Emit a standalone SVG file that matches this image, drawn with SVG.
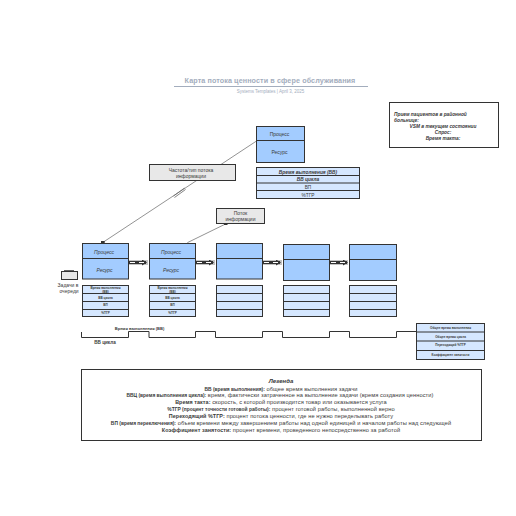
<svg xmlns="http://www.w3.org/2000/svg" width="516" height="516" viewBox="0 0 516 516">
<defs>
<marker id="sq" markerWidth="4" markerHeight="4" refX="2" refY="2" markerUnits="userSpaceOnUse"><rect width="4" height="3" fill="#333"/></marker>
<marker id="tri" markerWidth="5" markerHeight="6" refX="4" refY="3" markerUnits="userSpaceOnUse" orient="auto"><path d="M0 0L5 3L0 6Z" fill="#333"/></marker>
</defs>
<style>
text{font-family:"Liberation Sans",Arial,sans-serif;text-anchor:middle;fill:#3a3a3a}
.s{stroke:#333;stroke-width:1}
.p{fill:#a3ccff}
.d{fill:#d5e7ff}
.g{fill:#e8e8e8}
.w{fill:#fff}
.i{font-style:italic}
.c{font-size:5px}
.n{font-size:4.800px}
.t{font-size:3.100px}
.r{font-size:3.100px;font-weight:bold}
.l{font-size:5.700px;letter-spacing:.07px}
.b{font-weight:bold}
.l .b{font-size:4.900px;letter-spacing:0}
.l .k{font-size:5.400px;font-weight:bold}
.link{fill:none;stroke:#777;stroke-width:.8}
.f1{stroke:#c4c4c4;stroke-width:5;fill:none}
.f2{stroke:#333;stroke-width:3;fill:none}
.f3{stroke:#fff;stroke-width:1;stroke-dasharray:5 4 5;fill:none}
</style>
<g id="title">
<text x="270" y="83" font-size="7.200" font-weight="bold" style="fill:#a3adbd;letter-spacing:.1px">Карта потока ценности в сфере обслуживания</text>
<path d="M174 86.500H368" stroke="#a3adbd" fill="none"/>
<text x="270.500" y="93" font-size="4.500" style="fill:#a3adbd">Systems Templates  |  April 3, 2025</text>
</g>
<g id="connectors">
<path class="link" d="M256.500 141L102.700 242.500" marker-end="url(#sq)"/>
<path d="M173.500 196L184.500 188M174.500 197.500L185.500 189.500" fill="none" stroke="#666" stroke-width=".8"/>
<path class="link" d="M187.300 242.700L225.500 224" marker-end="url(#sq)"/>
<g id="flow1"><path class="f1" d="M129 262.500H148"/><path class="f2" d="M129 262.500H146" marker-end="url(#tri)"/><path class="f3" d="M130 262.500H145"/></g>
<g id="flow2"><path class="f1" d="M196 262.500H215"/><path class="f2" d="M196 262.500H213" marker-end="url(#tri)"/><path class="f3" d="M197 262.500H212"/></g>
<g id="flow3"><path class="f1" d="M263 262.500H282"/><path class="f2" d="M263 262.500H280" marker-end="url(#tri)"/><path class="f3" d="M264 262.500H279"/></g>
<g id="flow4"><path class="f1" d="M330 262.500H348"/><path class="f2" d="M330 262.500H347" marker-end="url(#tri)"/><path class="f3" d="M331 262.500H346"/></g>
<path id="timeline" d="M81.500 332V337.500H128.500V331.500H149V337.500H195.500V331.500H215.500V337.500H262.500V331.500H282.500V337.500H329.500V331.500H349.500V337.500H396.500V331.500H416.500" fill="none" stroke="#333"/>
</g>
<g id="top-right-note">
<rect class="w s" x="389.500" y="102.500" width="109" height="45"/>
<text class="n b i" x="394" y="116" style="text-anchor:start">Прием пациентов в районной</text>
<text class="n b i" x="394" y="121.500" style="text-anchor:start">больнице:</text>
<text class="n b i" x="443" y="128">VSM в текущем состоянии</text>
<text class="n b i" x="443" y="134">Спрос:</text>
<text class="n b i" x="443" y="140">Время такта:</text>
</g>
<g id="top-process">
<rect class="p s" x="256.500" y="126.500" width="48" height="36"/>
<path class="s" d="M256.500 140.500H304.500"/>
<text class="c" x="279.500" y="135.700">Процесс</text>
<text class="c" x="279.500" y="154">Ресурс</text>
</g>
<g id="top-table">
<rect class="d s" x="256.500" y="167.500" width="103" height="31"/>
<path class="s" d="M256.500 175.500H359.500M256.500 183H359.500M256.500 190.500H359.500"/>
<text class="n b i" x="308" y="173.500">Время выполнения (ВВ)</text>
<text class="n b i" x="308" y="181">ВВ цикла</text>
<text class="n" x="308" y="188.500">ВП</text>
<text class="n" x="308" y="196.500">%ТГР</text>
</g>
<g id="info-freq">
<rect class="g s" x="149.500" y="164.500" width="86" height="16"/>
<text class="c" x="191" y="171.500">Частота/тип потока</text>
<text class="c" x="191" y="177.500">информации</text>
</g>
<g id="info-flow">
<rect class="g s" x="216.500" y="208.500" width="48" height="15"/>
<text class="c" x="240.500" y="214.500">Поток</text>
<text class="c" x="240.500" y="220.500">информации</text>
</g>
<g id="queue">
<rect class="g s" x="61.500" y="271.500" width="16" height="8"/>
<path d="M64 271H74" stroke="#333" stroke-width="1.500"/>
<text class="c" x="68" y="286.500">Задачи в</text>
<text class="c" x="69" y="292.500">очереди</text>
</g>
<g id="p1"><rect class="p s" x="82.500" y="243.500" width="46" height="35.500"/><path class="s" d="M82.500 258.500H128.500"/><text class="c i" x="104" y="254">Процесс</text><text class="c i" x="104.500" y="272">Ресурс</text></g>
<g id="p2"><rect class="p s" x="149.500" y="243.500" width="46" height="35.500"/><path class="s" d="M149.500 258.500H195.500"/><text class="c i" x="171" y="254">Процесс</text><text class="c i" x="171" y="272">Ресурс</text></g>
<g id="p3"><rect class="p s" x="216.500" y="243.500" width="46" height="35.500"/><path class="s" d="M216.500 258.500H262.500"/></g>
<g id="p4"><rect class="p s" x="283.500" y="244.500" width="46" height="36"/><path class="s" d="M283.500 259.500H329.500"/></g>
<g id="p5"><rect class="p s" x="349.500" y="244.500" width="47" height="36"/><path class="s" d="M349.500 259.500H396.500"/></g>
<g id="t1"><rect class="d s" x="82.500" y="285.500" width="46" height="31"/><path class="s" d="M82.500 293.500H128.500M82.500 301.500H128.500M82.500 309.500H128.500"/>
<text class="t b" x="105.500" y="288.500">Время выполнения</text><text class="t b" x="105.500" y="292.500">(ВВ)</text><text class="t b" x="105.500" y="298.500">ВВ цикла</text><text class="t b" x="105.500" y="306.200">ВП</text><text class="t b" x="105.500" y="314">%ТГР</text></g>
<g id="t2"><rect class="d s" x="149.500" y="285.500" width="46" height="31"/><path class="s" d="M149.500 293.500H195.500M149.500 301.500H195.500M149.500 309.500H195.500"/>
<text class="t b" x="172.500" y="288.500">Время выполнения</text><text class="t b" x="172.500" y="292.500">(ВВ)</text><text class="t b" x="172.500" y="298.500">ВВ цикла</text><text class="t b" x="172.500" y="306.200">ВП</text><text class="t b" x="172.500" y="314">%ТГР</text></g>
<g id="t3"><rect class="d s" x="216.500" y="285.500" width="46" height="31"/><path class="s" d="M216.500 293.500H262.500M216.500 301.500H262.500M216.500 309.500H262.500"/></g>
<g id="t4"><rect class="d s" x="283.500" y="285.500" width="46" height="31"/><path class="s" d="M283.500 293.500H329.500M283.500 301.500H329.500M283.500 309.500H329.500"/></g>
<g id="t5"><rect class="d s" x="349.500" y="285.500" width="47" height="31"/><path class="s" d="M349.500 293.500H396.500M349.500 301.500H396.500M349.500 309.500H396.500"/></g>
<g id="timeline-labels">
<text x="139.500" y="329.500" style="font-size:4.100px;font-weight:bold">Время выполнения (ВВ)</text>
<text x="105" y="343.500" style="font-size:4.600px;font-weight:bold">ВВ цикла</text>
</g>
<g id="summary">
<rect class="d s" x="416.500" y="323.500" width="68" height="36"/>
<path class="s" d="M416.500 332H484.500M416.500 341H484.500M416.500 350.500H484.500"/>
<text class="r" x="450.500" y="329">Общее время выполнения</text>
<text class="r" x="450.500" y="338">Общее время цикла</text>
<text class="r" x="450.500" y="346">Переходящий %ТГР</text>
<text class="r" x="450.500" y="355.500">Коэффициент занятости</text>
</g>
<g id="legend">
<rect class="w s" x="81.500" y="369.500" width="400" height="71"/>
<text class="b i" x="281" y="383" style="font-size:6px">Легенда</text>
<text class="l" x="281" y="390.500"><tspan class="b">ВВ (время выполнения):</tspan> общее время выполнения задачи</text>
<text class="l" x="280" y="397"><tspan class="b">ВВЦ (время выполнения цикла):</tspan> время, фактически затраченное на выполнение задачи (время создания ценности)</text>
<text class="l" x="281" y="404"><tspan class="k">Время такта:</tspan> скорость, с которой производится товар или оказывается услуга</text>
<text class="l" x="281" y="411"><tspan class="b">%ТГР (процент точности готовой работы):</tspan> процент готовой работы, выполненной верно</text>
<text class="l" x="281" y="418"><tspan class="k">Переходящий %ТГР:</tspan> процент потока ценности, где не нужно переделывать работу</text>
<text class="l" x="281" y="425"><tspan class="b">ВП (время переключения):</tspan> объем времени между завершением работы над одной единицей и началом работы над следующей</text>
<text class="l" x="281" y="432"><tspan class="k">Коэффициент занятости:</tspan> процент времени, проведенного непосредственно за работой</text>
</g>
</svg>
